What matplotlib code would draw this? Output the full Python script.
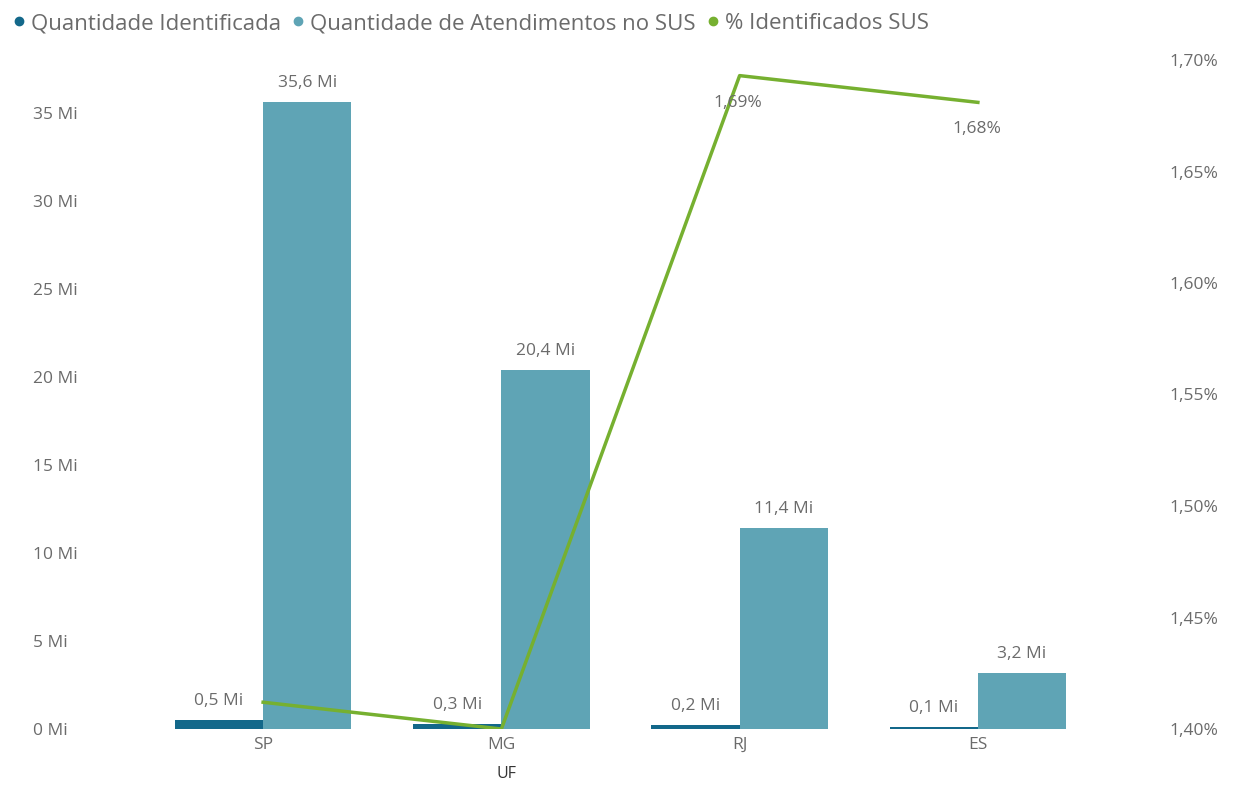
import matplotlib.pyplot as plt
import numpy as np

ufs = ['SP', 'MG', 'RJ', 'ES']
qtd_identificada = [0.5, 0.3, 0.2, 0.1]
qtd_atendimentos = [35.6, 20.4, 11.4, 3.2]
pct_identificados = [1.412, 1.400, 1.693, 1.681]
pct_labels = ['', '', '1,69%', '1,68%']

cor_escura = '#13688a'
cor_clara = '#5fa4b5'
cor_linha = '#76b030'
cor_texto = '#6b6b6b'

plt.rcParams['font.family'] = ['Open Sans', 'DejaVu Sans']

fig = plt.figure(figsize=(12.35, 7.89), dpi=100)
ax = fig.add_axes([144 / 1235, 1 - 729 / 789, (1097 - 144) / 1235, (729 - 60) / 789])

x = np.arange(len(ufs))
w = 0.37
b1 = ax.bar(x - w / 2, qtd_identificada, w, color=cor_escura)
b2 = ax.bar(x + w / 2, qtd_atendimentos, w, color=cor_clara)

for bars, vals in [(b1, qtd_identificada), (b2, qtd_atendimentos)]:
    for rect, v in zip(bars, vals):
        ax.annotate(f'{v:.1f} Mi'.replace('.', ','), (rect.get_x() + rect.get_width() / 2, v),
                    xytext=(0, 8), textcoords='offset points', ha='center', va='bottom',
                    fontsize=12.5, color=cor_texto)

ax.set_xlim(-0.5, 3.5)
ax.set_ylim(0, 38)
ax.set_yticks([0, 5, 10, 15, 20, 25, 30, 35])
ax.set_yticklabels([f'{t} Mi' for t in [0, 5, 10, 15, 20, 25, 30, 35]])
ax.set_xticks(x)
ax.set_xticklabels(ufs)
ax.tick_params(axis='both', length=0, labelsize=12.5, labelcolor=cor_texto)
ax.tick_params(axis='y', pad=80)
for lbl in ax.get_yticklabels():
    lbl.set_horizontalalignment('left')
ax.tick_params(axis='x', pad=6)
for s in ax.spines.values():
    s.set_visible(False)
ax.set_xlabel('UF', fontsize=11.5, color='#333333')
ax.xaxis.set_label_coords((506 - 144) / (1097 - 144), -0.055)

ax2 = ax.twinx()
ax2.plot(x, pct_identificados, color=cor_linha, linewidth=2.5)
for xi, v, lab in zip(x, pct_identificados, pct_labels):
    if lab:
        ax2.annotate(lab, (xi, v), xytext=(-1, -19.5), textcoords='offset points',
                     ha='center', va='center', fontsize=12.5, color=cor_texto)
ax2.set_ylim(1.40, 1.70)
ax2.set_yticks([1.40, 1.45, 1.50, 1.55, 1.60, 1.65, 1.70])
ax2.set_yticklabels([f'{t:.2f}%'.replace('.', ',') for t in [1.40, 1.45, 1.50, 1.55, 1.60, 1.65, 1.70]])
ax2.tick_params(axis='y', length=0, labelsize=12.5, labelcolor=cor_texto, pad=52)
for s in ax2.spines.values():
    s.set_visible(False)

# legenda
itens = [('Quantidade Identificada', cor_escura),
         ('Quantidade de Atendimentos no SUS', cor_clara),
         ('% Identificados SUS', cor_linha)]
handles = [plt.Line2D([], [], marker='o', linestyle='', color=c, markersize=6) for _, c in itens]
fig.legend(handles, [t for t, _ in itens], loc='upper left', bbox_to_anchor=(-0.007, 1.003),
           ncol=3, frameon=False, handletextpad=0.0, columnspacing=0.2, handlelength=1.1,
           fontsize=16, labelcolor=cor_texto, borderaxespad=0.3)

fig.savefig('out.png', dpi=100)
